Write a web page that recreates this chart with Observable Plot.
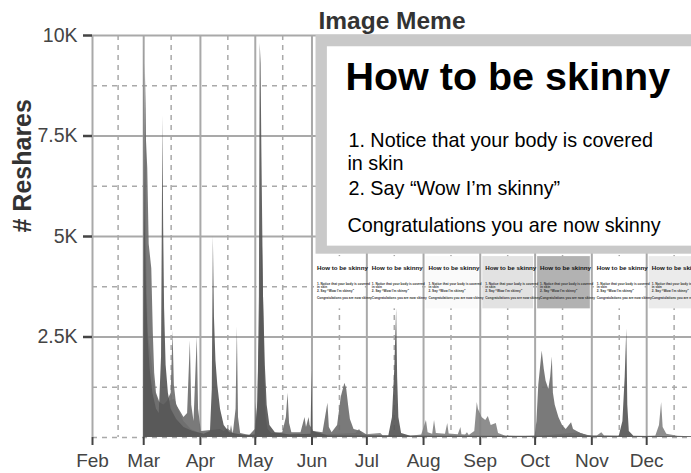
<!DOCTYPE html>
<html><head><meta charset="utf-8">
<script src="https://cdn.jsdelivr.net/npm/d3@7"></script>
<script src="https://cdn.jsdelivr.net/npm/@observablehq/plot@0.6"></script>
<style>
html,body{margin:0;padding:0;background:#fff;}
#chart svg{display:block;}
</style></head><body><div id="chart"></div>
<script>
// ---- data ----
const monthLabels = ["Feb","Mar","Apr","May","Jun","Jul","Aug","Sep","Oct","Nov","Dec"];
const monthStarts = ["2013-02-01","2013-03-01","2013-04-01","2013-05-01","2013-06-01","2013-07-01","2013-08-01","2013-09-01","2013-10-01","2013-11-01","2013-12-01"];
const midMonths = ["2013-02-15","2013-03-16","2013-04-16","2013-05-16","2013-06-16","2013-07-16","2013-08-16","2013-09-16","2013-10-16","2013-11-16","2013-12-16"];
const yTicks = [2500,5000,7500,10000];
const yTickLabels = ["2.5K","5K","7.5K","10K"];
const yMinor = [0,1250,3750,6250,8750];

const seriesLight = [
 ["2013-03-01T00",0],["2013-03-02T02",9050],["2013-03-02T18",4200],["2013-03-03T12",2600],["2013-03-05T10",1900],
 ["2013-03-07",1200],["2013-03-09",900],["2013-03-12",800],["2013-03-15",900],["2013-03-18",950],["2013-03-20",700],
 ["2013-03-23",400],["2013-03-27",200],["2013-04-01",100],["2013-04-05",50],["2013-04-15",60],["2013-04-16T03",200],
 ["2013-04-17",60],["2013-04-18",300],["2013-04-19",80],["2013-04-28",40],["2013-05-12",60],["2013-05-25",80],
 ["2013-06-05",60],["2013-06-25",100],["2013-06-27",200],["2013-06-29",60],["2013-07-08T15",100],["2013-07-10",40],
 ["2013-07-25",30],["2013-07-31",60],["2013-08-02T14",420],["2013-08-03T12",120],["2013-08-06",80],["2013-08-07",420],
 ["2013-08-08",100],["2013-08-13",80],["2013-08-14T05",350],["2013-08-15",90],["2013-08-20",70],["2013-08-21T10",250],
 ["2013-08-22",70],["2013-08-24",60],["2013-08-25",120],["2013-08-26",50],["2013-08-29",150],["2013-08-30T09",870],
 ["2013-08-31",700],["2013-09-02",500],["2013-09-04",420],["2013-09-05T10",520],["2013-09-07",300],["2013-09-09T19",350],
 ["2013-09-11",100],["2013-09-15",30],["2013-09-25",20],["2013-10-01",20],["2013-10-25",120],["2013-10-30",40],
 ["2013-11-04",40],["2013-11-06T11",120],["2013-11-08",40],["2013-11-28",20],["2013-12-06",40],["2013-12-08",300],
 ["2013-12-09T04",870],["2013-12-10",250],["2013-12-12",80],["2013-12-18",30],["2013-12-25T12",20]
];
const seriesMid = [
 ["2013-03-01T00",0],["2013-03-01T20",9300],["2013-03-02T12",7400],["2013-03-03T05",6700],["2013-03-04",4800],
 ["2013-03-05T10",4200],["2013-03-06T06",2600],["2013-03-07",1600],["2013-03-08",1100],["2013-03-10",850],
 ["2013-03-12",800],["2013-03-14",900],["2013-03-16",1100],["2013-03-17T01",2650],["2013-03-17T18",1300],
 ["2013-03-19",800],["2013-03-21",650],["2013-03-23",500],["2013-03-25",600],["2013-03-26T12",2400],["2013-03-27T06",800],
 ["2013-03-28T12",400],["2013-03-30T07",2500],["2013-03-31",700],["2013-04-01T12",150],["2013-04-12",200],
 ["2013-04-14",150],["2013-04-16",220],["2013-04-19",100],["2013-04-20T12",700],["2013-04-21T05",2750],
 ["2013-04-21T20",500],["2013-04-23",100],["2013-04-28",50],["2013-05-01T00",200],["2013-05-01T12",870],
 ["2013-05-02",400],["2013-05-03",2000],["2013-05-04T19",5100],["2013-05-05T12",3500],["2013-05-06T06",1400],
 ["2013-05-07",500],["2013-05-08",200],["2013-05-10",100],["2013-05-16",120],["2013-05-18",500],["2013-05-18T22",1100],
 ["2013-05-19T18",350],["2013-05-21",120],["2013-05-26",120],["2013-05-28T05",500],["2013-05-29",250],
 ["2013-05-30T10",500],["2013-05-31",300],["2013-06-02",150],["2013-06-07",120],["2013-06-09T17",850],
 ["2013-06-10T12",250],["2013-06-12",120],["2013-06-15",300],["2013-06-17",1000],["2013-06-19",1350],["2013-06-20",1200],
 ["2013-06-21",800],["2013-06-22",450],["2013-06-24",200],["2013-06-28",150],["2013-07-02",40],["2013-07-30",30],
 ["2013-09-20",20],["2013-10-01",30],["2013-10-02",400],["2013-10-03",1300],["2013-10-04T21",2150],["2013-10-06",1700],
 ["2013-10-07",1400],["2013-10-08T12",1200],["2013-10-09T12",1500],["2013-10-10T10",2000],["2013-10-11",1100],
 ["2013-10-12",800],["2013-10-14",500],["2013-10-16",300],["2013-10-18",200],["2013-10-20T22",370],["2013-10-22",200],
 ["2013-10-26",100],["2013-10-30",50],["2013-11-03",20],["2013-12-25T12",10]
];
const seriesDark = [
 ["2013-03-01T00",0],["2013-03-01T06",10000],["2013-03-01T18",5500],["2013-03-02T12",3600],["2013-03-03T12",2400],
 ["2013-03-04T12",1700],["2013-03-06",1100],["2013-03-08",700],["2013-03-09T12",600],["2013-03-10T18",2000],
 ["2013-03-11T12",8000],["2013-03-11T22",5200],["2013-03-12T10",3200],["2013-03-13T06",1800],["2013-03-14T12",1100],
 ["2013-03-16",700],["2013-03-19",450],["2013-03-23",250],["2013-03-28",150],["2013-04-03",80],["2013-04-06T12",150],
 ["2013-04-07T12",1200],["2013-04-08T02",5000],["2013-04-08T16",3000],["2013-04-09T12",1900],["2013-04-10T12",1300],
 ["2013-04-12",700],["2013-04-14",300],["2013-04-17",120],["2013-04-25",50],["2013-05-01",60],["2013-05-02T12",900],
 ["2013-05-03T06",3500],["2013-05-03T17",9800],["2013-05-04T04",9300],["2013-05-04T14",7200],["2013-05-05T12",3500],
 ["2013-05-06T12",1800],["2013-05-07T12",800],["2013-05-09",300],["2013-05-12",120],["2013-05-20",60],
 ["2013-05-31T12",80],["2013-06-01T00",1650],["2013-06-01T12",150],["2013-06-10",40],["2013-07-13",40],
 ["2013-07-15",500],["2013-07-16T06",1700],["2013-07-17T07",3200],["2013-07-17T20",1500],["2013-07-18T12",500],
 ["2013-07-20",100],["2013-07-25",30],["2013-11-16",30],["2013-11-18",400],["2013-11-19T06",1500],
 ["2013-11-20T03",2700],["2013-11-20T16",800],["2013-11-21T12",150],["2013-11-24",30],["2013-12-25T12",10]
];

const thumbMonths = ["2013-06-01","2013-07-01","2013-08-01","2013-09-01","2013-10-01","2013-11-01","2013-12-01"];
const thumbShades = ["#ffffff","#ffffff","#fafafa","#e2e2e2","#b2b2b2","#ffffff","#ebebeb"];
const memeTitle = "How to be skinny";
const memeLines = ["1. Notice that your body is covered","in skin","2. Say \u201cWow I\u2019m skinny\u201d","Congratulations you are now skinny"];
const chartTitle = "Image Meme";
const yLabel = "# Reshares";

// ---- build ----
const toDate = s => new Date(s.length === 10 ? s + "T00:00:00Z" : s + ":00:00Z");
const asRows = (arr, name) => arr.map(([d, v]) => ({date: toDate(d), value: v, series: name}));
const light = asRows(seriesLight, "light");
const mid = asRows(seriesMid, "mid");
const dark = asRows(seriesDark, "dark");
const months = monthStarts.map(toDate);
const mids = midMonths.map(toDate);
const labelOf = new Map(months.map((d, i) => [+d, monthLabels[i]]));
const yLabelOf = new Map(yTicks.map((v, i) => [v, yTickLabels[i]]));
const thumbs = thumbMonths.map((m, i) => ({start: toDate(m), end: d3.utcMonth.offset(toDate(m), 1), shade: thumbShades[i]}));

const grid = "#a9a9a9";
const ink = "#444";
const font = "'Liberation Sans', Arial, Helvetica, sans-serif";

const boxOuter = {x1: toDate("2013-06-03T05"), x2: toDate("2014-02-01"), y1: 4560, y2: 10000};
const boxInner = {x1: toDate("2013-06-09T10"), x2: toDate("2014-02-01"), y1: 4760, y2: 9720};

const chart = Plot.plot({
  width: 691, height: 473,
  marginLeft: 92, marginRight: 0, marginTop: 35, marginBottom: 36,
  style: {fontFamily: font, background: "#fff", overflow: "hidden"},
  x: {type: "utc", domain: [toDate("2013-02-01"), toDate("2013-12-25T12")]},
  y: {domain: [0, 10000]},
  marks: [
    Plot.gridY(yMinor, {stroke: grid, strokeOpacity: 1, strokeWidth: 1.5, strokeDasharray: "5,5"}),
    Plot.gridX(mids, {stroke: grid, strokeOpacity: 1, strokeWidth: 1.5, strokeDasharray: "5,5"}),
    Plot.gridY(yTicks, {stroke: grid, strokeOpacity: 1, strokeWidth: 2}),
    Plot.gridX(months, {stroke: grid, strokeOpacity: 1, strokeWidth: 2}),
    Plot.area(light, {x1: "date", y1: 0, y2: "value", fill: "#828282", fillOpacity: 0.9, curve: "linear"}),
    Plot.area(mid, {x1: "date", y1: 0, y2: "value", fill: "#6c6c6c", fillOpacity: 0.9, curve: "linear"}),
    Plot.area(dark, {x1: "date", y1: 0, y2: "value", fill: "#575757", fillOpacity: 0.92, curve: "linear"}),
    // meme image inset
    Plot.rect([boxOuter], {x1: "x1", x2: "x2", y1: "y1", y2: "y2", fill: "#c9c9c9"}),
    Plot.rect([boxInner], {x1: "x1", x2: "x2", y1: "y1", y2: "y2", fill: "#ffffff"}),
    Plot.text([memeTitle], {x: () => boxInner.x1, y: () => boxInner.y2, dx: 18, dy: 43, lineAnchor: "bottom", textAnchor: "start", fontSize: 39.5, fontWeight: "bold", fill: "#000"}),
    Plot.text([memeLines[0]], {x: () => boxInner.x1, y: () => boxInner.y2, dx: 21, dy: 100, lineAnchor: "bottom", textAnchor: "start", fontSize: 19.8, fill: "#000"}),
    Plot.text([memeLines[1]], {x: () => boxInner.x1, y: () => boxInner.y2, dx: 20, dy: 123, lineAnchor: "bottom", textAnchor: "start", fontSize: 19.8, fill: "#000"}),
    Plot.text([memeLines[2]], {x: () => boxInner.x1, y: () => boxInner.y2, dx: 21, dy: 148, lineAnchor: "bottom", textAnchor: "start", fontSize: 19.8, fill: "#000"}),
    Plot.text([memeLines[3]], {x: () => boxInner.x1, y: () => boxInner.y2, dx: 20, dy: 185, lineAnchor: "bottom", textAnchor: "start", fontSize: 19.8, fill: "#000"}),
    // thumbnails, one per month
    Plot.rect(thumbs, {x1: "start", x2: "end", y1: 3200, y2: 4500, insetLeft: 2.5, insetRight: 1.5, fill: "shade"}),
    Plot.text(thumbs, {x: "start", y: 4500, text: () => memeTitle, dx: 5, dy: 13, lineAnchor: "bottom", textAnchor: "start", fontSize: 6.2, fontWeight: "bold", fill: "#111"}),
    Plot.text(thumbs, {x: "start", y: 4500, text: () => memeLines[0], dx: 5, dy: 28, lineAnchor: "bottom", textAnchor: "start", fontSize: 3.2, fontWeight: "bold", fill: "#333"}),
    Plot.text(thumbs, {x: "start", y: 4500, text: () => memeLines[1], dx: 5, dy: 31.5, lineAnchor: "bottom", textAnchor: "start", fontSize: 3.2, fontWeight: "bold", fill: "#333"}),
    Plot.text(thumbs, {x: "start", y: 4500, text: () => memeLines[2], dx: 5, dy: 35, lineAnchor: "bottom", textAnchor: "start", fontSize: 3.2, fontWeight: "bold", fill: "#333"}),
    Plot.text(thumbs, {x: "start", y: 4500, text: () => memeLines[3], dx: 5, dy: 42, lineAnchor: "bottom", textAnchor: "start", fontSize: 3.2, fontWeight: "bold", fill: "#333"}),
    // axes
    Plot.axisY(yTicks, {tickFormat: v => yLabelOf.get(v), tickSize: 9, tickPadding: 6, fontSize: 19.5, fill: ink, stroke: ink, strokeWidth: 2.5, label: null}),
    Plot.axisX(months, {tickFormat: d => labelOf.get(+d), tickSize: 8, tickPadding: 8, fontSize: 19, fill: ink, stroke: ink, strokeWidth: 2, label: null}),
    Plot.text([chartTitle], {frameAnchor: "top", dy: -7, lineAnchor: "bottom", fontSize: 24.5, fontWeight: "bold", fill: "#333"}),
    Plot.text([yLabel], {frameAnchor: "left", rotate: -90, dx: -70, dy: -4, fontSize: 25, fontWeight: "bold", fill: "#333"})
  ]
});
document.getElementById("chart").appendChild(chart);
</script>
</body></html>
